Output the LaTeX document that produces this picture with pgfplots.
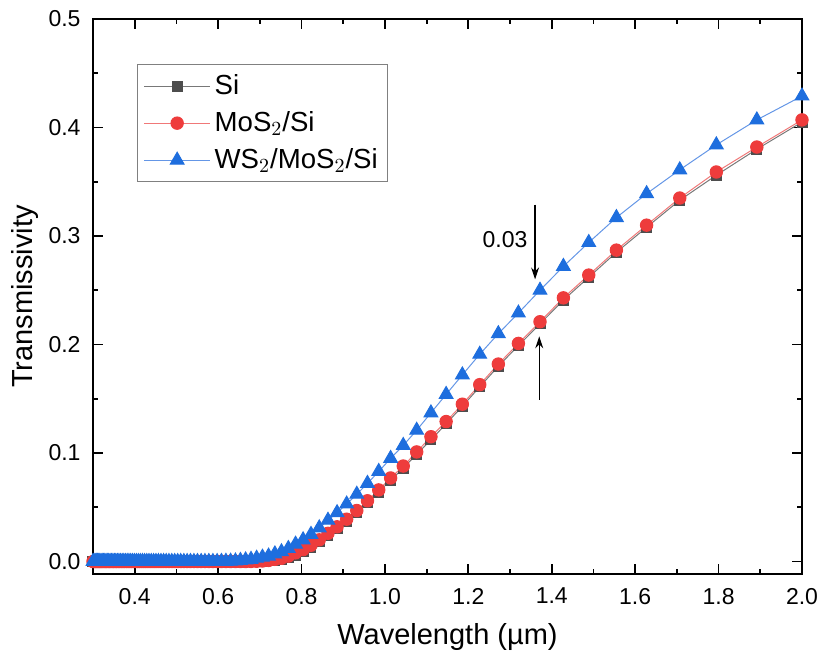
\documentclass[border=0pt]{standalone}
\usepackage{fontspec}
\setmainfont{Liberation Sans}
\usepackage{pgfplots}
\pgfplotsset{compat=1.18}
\usepackage{pgfplotstable}
\usetikzlibrary{arrows.meta}
\definecolor{siG}{RGB}{77,77,77}
\definecolor{siL}{RGB}{120,120,120}
\definecolor{moR}{RGB}{238,60,60}
\definecolor{moL}{RGB}{240,120,120}
\definecolor{wsB}{RGB}{30,110,222}
\definecolor{wsL}{RGB}{100,150,230}
\pgfplotstableread{
x si mos ws
2.0000 0.405 0.407 0.429
1.8917 0.380 0.382 0.407
1.7946 0.356 0.359 0.384
1.7069 0.333 0.335 0.361
1.6274 0.308 0.310 0.339
1.5550 0.285 0.287 0.317
1.4887 0.262 0.264 0.294
1.4279 0.241 0.243 0.272
1.3718 0.219 0.221 0.250
1.3200 0.199 0.201 0.229
1.2719 0.180 0.182 0.210
1.2273 0.161 0.163 0.191
1.1856 0.143 0.145 0.172
1.1467 0.127 0.129 0.154
1.1103 0.112 0.115 0.137
1.0761 0.099 0.101 0.121
1.0439 0.086 0.088 0.107
1.0136 0.075 0.077 0.095
0.9851 0.064 0.066 0.083
0.9581 0.054 0.056 0.072
0.9325 0.045 0.047 0.062
0.9082 0.037 0.039 0.053
0.8852 0.030 0.032 0.045
0.8634 0.024 0.026 0.038
0.8425 0.018 0.020 0.031
0.8227 0.013 0.015 0.025
0.8038 0.009 0.011 0.020
0.7857 0.006 0.008 0.016
0.7684 0.004 0.005 0.012
0.7519 0.002 0.003 0.009
0.7361 0.001 0.002 0.007
0.7209 0.0005 0.001 0.005
0.7063 0.0002 0.0005 0.004
0.6923 0.0001 0.0002 0.003
0.6789 0.0 0.0001 0.002
0.6659 0.0 0.0 0.0015
0.6535 0.0 0.0 0.001
0.6415 0.0 0.0 0.0005
0.6299 0.0 0.0 0.0003
0.6187 0.0 0.0 0.0002
0.6080 0.0 0.0 0.0001
0.5976 0.0 0.0 0.0
0.5875 0.0 0.0 0.0
0.5778 0.0 0.0 0.0
0.5684 0.0 0.0 0.0
0.5593 0.0 0.0 0.0
0.5505 0.0 0.0 0.0
0.5420 0.0 0.0 0.0
0.5337 0.0 0.0 0.0
0.5257 0.0 0.0 0.0
0.5179 0.0 0.0 0.0
0.5103 0.0 0.0 0.0
0.5030 0.0 0.0 0.0
0.4958 0.0 0.0 0.0
0.4889 0.0 0.0 0.0
0.4821 0.0 0.0 0.0
0.4756 0.0 0.0 0.0
0.4692 0.0 0.0 0.0
0.4630 0.0 0.0 0.0
0.4569 0.0 0.0 0.0
0.4510 0.0 0.0 0.0
0.4453 0.0 0.0 0.0
0.4397 0.0 0.0 0.0
0.4342 0.0 0.0 0.0
0.4289 0.0 0.0 0.0
0.4237 0.0 0.0 0.0
0.4186 0.0 0.0 0.0
0.4136 0.0 0.0 0.0
0.4088 0.0 0.0 0.0
0.4041 0.0 0.0 0.0
0.3995 0.0 0.0 0.0
0.3949 0.0 0.0 0.0
0.3905 0.0 0.0 0.0
0.3862 0.0 0.0 0.0
0.3820 0.0 0.0 0.0
0.3779 0.0 0.0 0.0
0.3738 0.0 0.0 0.0
0.3699 0.0 0.0 0.0
0.3660 0.0 0.0 0.0
0.3622 0.0 0.0 0.0
0.3585 0.0 0.0 0.0
0.3548 0.0 0.0 0.0
0.3513 0.0 0.0 0.0
0.3478 0.0 0.0 0.0
0.3443 0.0 0.0 0.0
0.3410 0.0 0.0 0.0
0.3377 0.0 0.0 0.0
0.3345 0.0 0.0 0.0
0.3313 0.0 0.0 0.0
0.3282 0.0 0.0 0.0
0.3251 0.0 0.0 0.0
0.3221 0.0 0.0 0.0
0.3192 0.0 0.0 0.0
0.3163 0.0 0.0 0.0
0.3135 0.0 0.0 0.0
0.3107 0.0 0.0 0.0
0.3079 0.0 0.0 0.0
0.3052 0.0 0.0 0.0
0.3026 0.0 0.0 0.0
0.3000 0.0 0.0 0.0
}\data
\begin{document}
\begin{tikzpicture}
\begin{axis}[
  scale only axis, width=354.5pt, height=277.5pt,
  xmin=0.3, xmax=2.0, ymin=-0.0115, ymax=0.5,
  xtick={0.4,0.6,0.8,1.0,1.2,1.4,1.6,1.8,2.0},
  ytick={0,0.1,0.2,0.3,0.4,0.5},
  minor x tick num=1, minor y tick num=1,
  tick align=inside, major tick length=5pt, minor tick length=2.6pt,
  every tick/.style={black, line width=0.9pt},
  axis line style={black, line width=1.1pt},
  /pgf/number format/assume math mode=true,
  xticklabel style={yshift=-3.5pt, /pgf/number format/.cd, fixed, fixed zerofill, precision=1},
  yticklabel style={xshift=-2.7pt, /pgf/number format/.cd, fixed, fixed zerofill, precision=1},
  ticklabel style={font=\fontsize{11.5}{13}\selectfont},
  xlabel={Wavelength (µm)}, ylabel={Transmissivity},
  label style={font=\fontsize{14.5}{17}\selectfont},
  xlabel style={at={(axis description cs:0.5,-0.1135)}, anchor=center},
  ylabel style={at={(axis description cs:-0.0959,0.5)}, anchor=center},
  legend style={at={(0.062,0.919)}, anchor=north west, draw=gray, line width=0.7pt,
    font=\fontsize{13.8}{16}\selectfont, row sep=3pt, inner sep=3pt},
  legend cell align=left,
  legend image code/.code={\draw[mark repeat=2,mark phase=2,#1] plot coordinates {(0cm,0cm)(0.58cm,0cm)(1.16cm,0cm)};},
]
\addplot[siL, line width=0.5pt, mark=square*, mark size=2.5pt, mark options={draw=siG, fill=siG, solid}] table[x=x, y=si] {\data};
\addlegendentry{Si}
\addplot[moL, line width=0.5pt, mark=*, mark size=3.1pt, mark options={draw=moR, fill=moR, solid}] table[x=x, y=mos] {\data};
\addlegendentry{MoS$_2$/Si}
\addplot[wsL, line width=0.5pt, mark=triangle*, mark size=3.95pt, mark options={draw=wsB, fill=wsB, solid}] table[x=x, y=ws] {\data};
\addlegendentry{WS$_2$/MoS$_2$/Si}
\draw[-{Stealth[length=6pt,width=4pt]}, line width=0.6pt] (axis cs:1.36,0.329) -- (axis cs:1.36,0.260);
\draw[-{Stealth[length=6pt,width=4pt]}, line width=0.6pt] (axis cs:1.37,0.149) -- (axis cs:1.37,0.2075);
\node[font=\fontsize{11.5}{13}\selectfont] at (axis cs:1.288,0.297) {0.03};
\end{axis}
\pgfresetboundingbox
\path[use as bounding box] ([xshift=-46.5pt,yshift=-42.5pt]current axis.south west) rectangle ([xshift=8pt,yshift=9.5pt]current axis.north east);
\end{tikzpicture}
\end{document}
